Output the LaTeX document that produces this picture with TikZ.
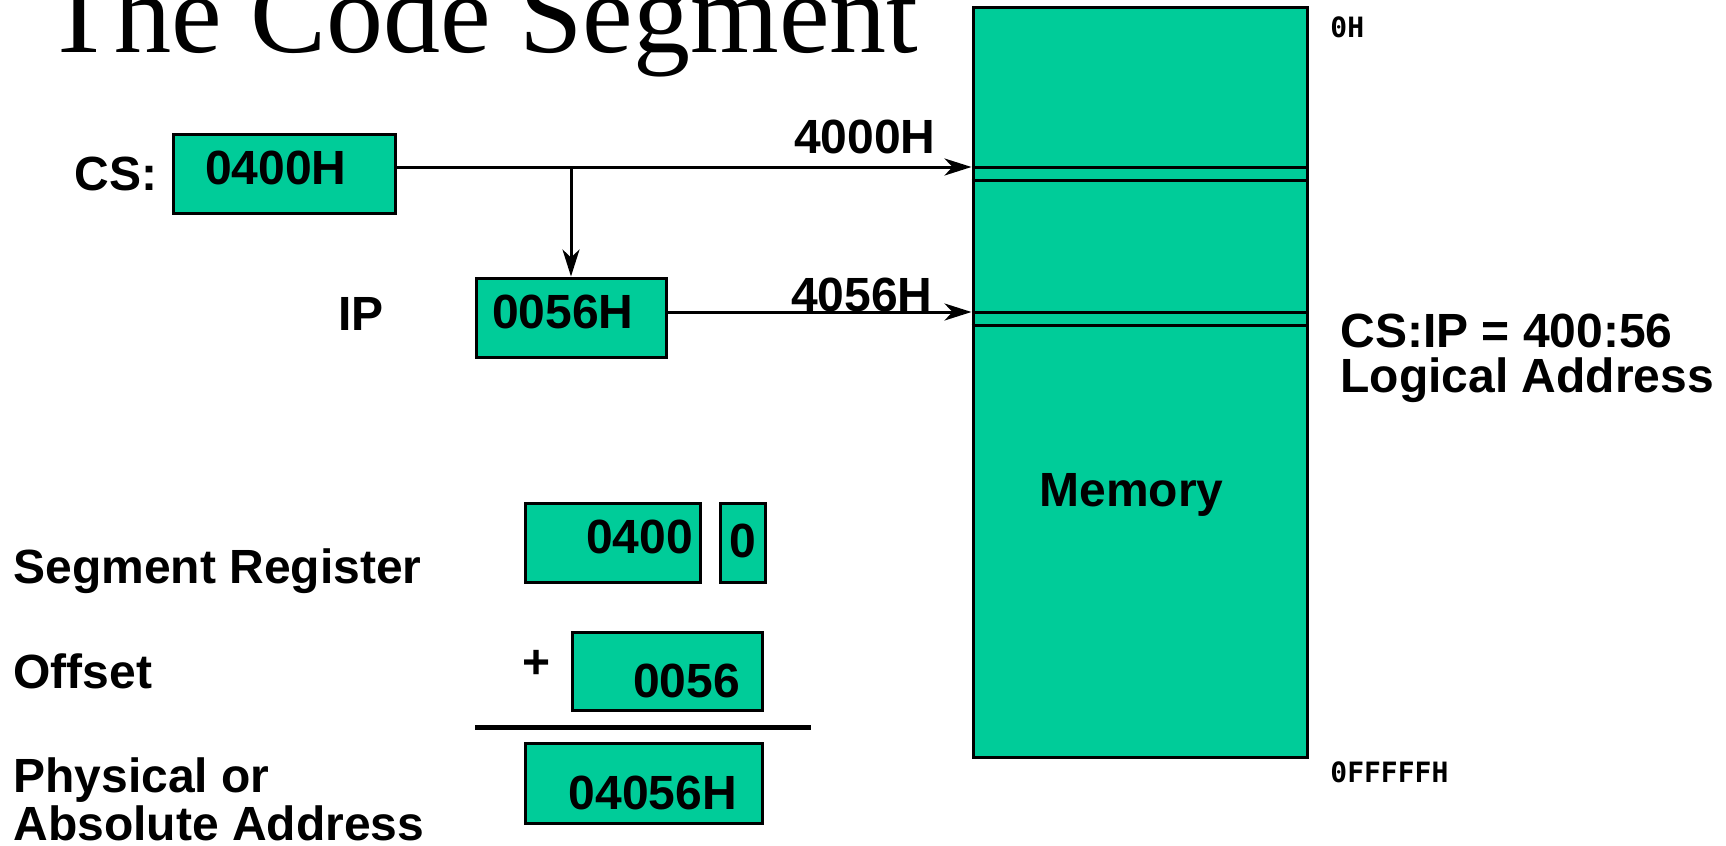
\documentclass[tikz,border=0pt]{standalone}
\usepackage{fontspec}
\setmainfont{Liberation Sans}
\newfontfamily\titlefont{Liberation Serif}
\newfontfamily\addrfont{DejaVu Sans Mono}
\usepackage{tikz}
\usetikzlibrary{arrows.meta, positioning}
\definecolor{memgreen}{RGB}{0,204,153}
\tikzstyle{reg}=[rectangle, draw=black, line width=1.5pt, fill=memgreen, minimum height=39.5pt, inner ysep=0pt, font=\bfseries\fontsize{24}{24}\selectfont]
\tikzstyle{memory}=[rectangle, draw=black, line width=1.5pt, fill=memgreen, minimum width=167pt, minimum height=375pt, inner sep=0pt]
\tikzstyle{divider}=[line width=1.5pt]
\tikzstyle{txt}=[inner sep=0pt, font=\bfseries\fontsize{24}{24}\selectfont]
\tikzstyle{addr}=[inner sep=0pt, anchor=base west, font=\addrfont\bfseries\fontsize{14}{14}\selectfont]
\tikzstyle{arrow}=[line width=1.5pt, ->, >={Stealth[length=13.5pt, width=8.5pt, inset=4pt]}]
\begin{document}
\begin{tikzpicture}[x=0.5pt, y=-0.5pt]
		\useasboundingbox (0,0) rectangle (1726,846);
		\node(title)[anchor=base west, inner sep=0pt, font=\titlefont\fontsize{57}{57}\selectfont] at (44,52){The Code Segment};
		
		% memory column
		\node(mem)[memory] at (1140,382){};
		\foreach \y in {167,180,312,325}
			\draw[divider](mem.west |- 0,\y)--(mem.east |- 0,\y);
		\coordinate(seg4000) at (mem.west |- 0,167);
		\coordinate(seg4056) at (mem.west |- 0,312);
		\node(memlabel)[txt, anchor=base west] at (1039,506){Memory};
		\node(top)[addr] at (1330,37){0H};
		\node(bottom)[addr] at (1330,782){0FFFFFH};
		
		% registers
		\node(cs)[reg, text width=79pt, inner xsep=16pt, align=left, text depth=6pt] at (284,173.5){0400H};
		\node(cslabel)[txt, anchor=base east] at (158,190){CS:};
		\node(ip)[reg, text width=79pt, inner xsep=8pt, align=left, text depth=6pt] at (571,317.5){0056H};
		\node(iplabel)[txt, anchor=base west] at (338,330){IP};
		
		\draw[arrow](cs.east |- seg4000)--(seg4000);
		\draw[arrow](seg4000 -| ip.north)--(ip.north);
		\draw[arrow](ip.east |- seg4056)--(seg4056);
		\node(a4000)[txt, anchor=base east] at (936,153){4000H};
		\node(a4056)[txt, anchor=base east] at (933,311){4056H};
		
		\node(logical)[txt, anchor=base west, align=left, font=\bfseries\fontsize{24}{22.5}\selectfont] at (1340,392){CS:IP = 400:56\\Logical Address};
		
		% address calculation
		\node(seg)[reg, text width=80.5pt, inner xsep=3.5pt, align=right, text depth=6pt] at (612.5,542.5){0400};
		\node(zero)[reg, minimum width=22.5pt, inner xsep=0pt, text depth=2pt, right=8.5pt of seg]{0};
		\node(off)[reg, minimum height=39pt, text width=73pt, inner xsep=11pt, align=right, text height=26pt, text depth=0pt] at (667,671){0056};
		\node(plus)[txt] at (537,664){+};
		\draw[line width=2.5pt](475,727)--(811,727);
		\node(phys)[reg, minimum height=40pt, text width=93.5pt, inner xsep=12.5pt, align=right, text height=26pt, text depth=0pt] at (643.5,783){04056H};
		
		\node(seglabel)[txt, anchor=base west] at (13,583){Segment Register};
		\node(offlabel)[txt, anchor=base west] at (13,688){Offset};
		\node(physlabel)[txt, anchor=south west, align=left] at (13,841){Physical or\\Absolute Address};
	\end{tikzpicture}
\end{document}
